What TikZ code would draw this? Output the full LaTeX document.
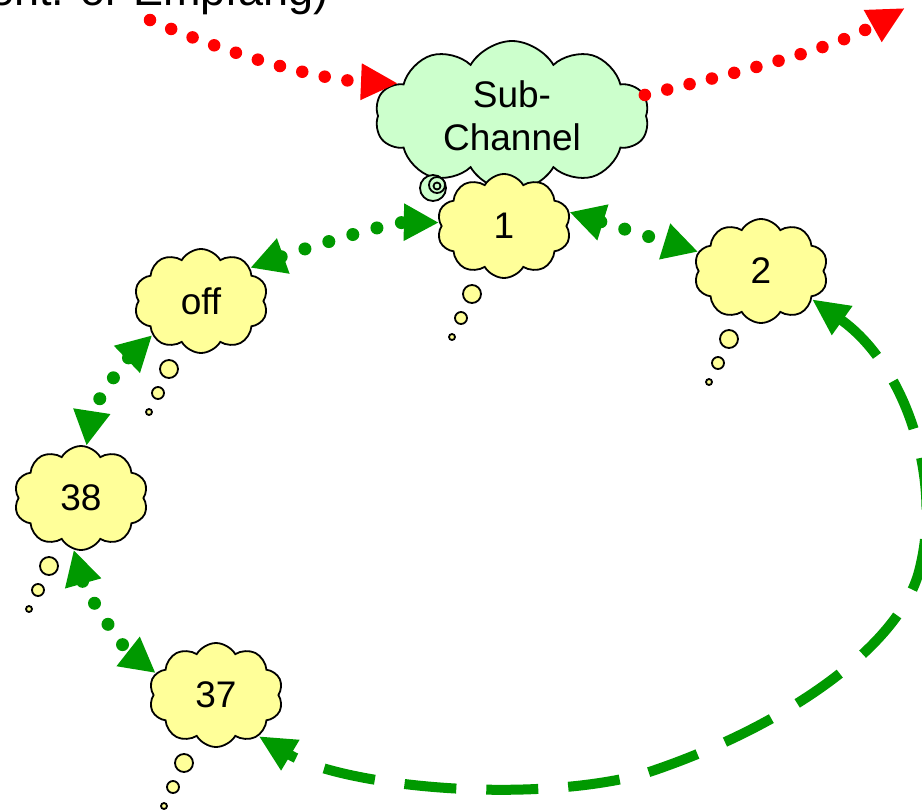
\documentclass[tikz,border=0pt]{standalone}
\usepackage{fontspec}
\setmainfont{Liberation Sans}
\usetikzlibrary{shapes.symbols,arrows.meta}
\definecolor{cloudyellow}{HTML}{FFFF99}
\definecolor{cloudgreen}{HTML}{CCFFCC}
\definecolor{arrowgreen}{HTML}{009900}
\begin{document}
\begin{tikzpicture}[x=1pt,y=-1pt,
    thought/.style={cloud, cloud puffs=10, cloud puff arc=120, cloud ignores aspect,
        draw=black, line width=1.8pt, fill=cloudyellow, minimum width=134pt,
        minimum height=104pt, inner sep=0pt, align=center,
        font=\fontsize{37pt}{43pt}\selectfont},
    bubble/.style={draw=black, line width=1.8pt, fill=cloudyellow},
    reddots/.style={draw=red, line width=12.5pt, line cap=round,
        dash pattern=on 0pt off 23pt, -{Triangle[length=37pt,width=34pt]}},
    greendots/.style={draw=arrowgreen, line width=13pt, line cap=round,
        dash pattern=on 0pt off 25pt,
        {Triangle[length=35pt,width=35pt]}-{Triangle[length=35pt,width=35pt]}},
    greendash/.style={draw=arrowgreen, line width=10pt, dash pattern=on 52pt off 30pt,
        {Triangle[length=37pt,width=33pt]}-{Triangle[length=37pt,width=33pt]}}]
    \path[use as bounding box, clip] (0,0) rectangle (922,812);

    \node[anchor=base east, font=\fontsize{45pt}{54pt}\selectfont] (mode) at (332,5) {(Sent. or Empfang)};

    % sub-channel cloud
    \node[thought, fill=cloudgreen, minimum width=274pt, minimum height=150pt] (sub) at (512,116) {Sub-\\Channel};
    \foreach \dx/\dy/\r in {-79/72/13, -75/69/8, -75/70/3.5}
        \draw[bubble, fill=cloudgreen] ([shift={(\dx,\dy)}]sub.center) circle[radius=\r pt];

    % channel clouds
    \node[thought] (c1) at (504,226) {1};
    \node[thought] (c2) at (761,271) {2};
    \node[thought] (off) at (201,301) {off};
    \node[thought] (n38) at (81,498) {38};
    \node[thought] (n37) at (216,695) {37};
    \foreach \n in {c1,c2,off,n38,n37}
        \foreach \dx/\dy/\r in {-32/68/9, -43/92/6, -52/111/3}
            \draw[bubble] ([shift={(\dx,\dy)}]\n.center) circle[radius=\r pt];

    % in and out
    \coordinate (redin) at (150,20);
    \coordinate (redout) at (905,8);
    \draw[reddots] (redin) .. controls (230,55) and (320,80) .. (sub.164);
    \draw[reddots] (sub.9) .. controls (740,72) and (830,50) .. (redout);

    % stepping through the channels
    \draw[greendots] (off.34) .. controls (300,250) and (390,222) .. (c1.177);
    \draw[greendots] (c1.12) -- (c2.163);
    \draw[greendots] (off.215) .. controls (120,366) and (92,410) .. (n38.84);
    \draw[greendots] (n38.262) .. controls (85,590) and (120,645) .. (n37.160);
    \draw[greendash] (c2.-29) .. controls (905,365) and (945,480) .. (918,575)
        .. controls (895,650) and (780,730) .. (640,775)
        .. controls (520,805) and (340,785) .. (n37.-44);
\end{tikzpicture}
\end{document}
